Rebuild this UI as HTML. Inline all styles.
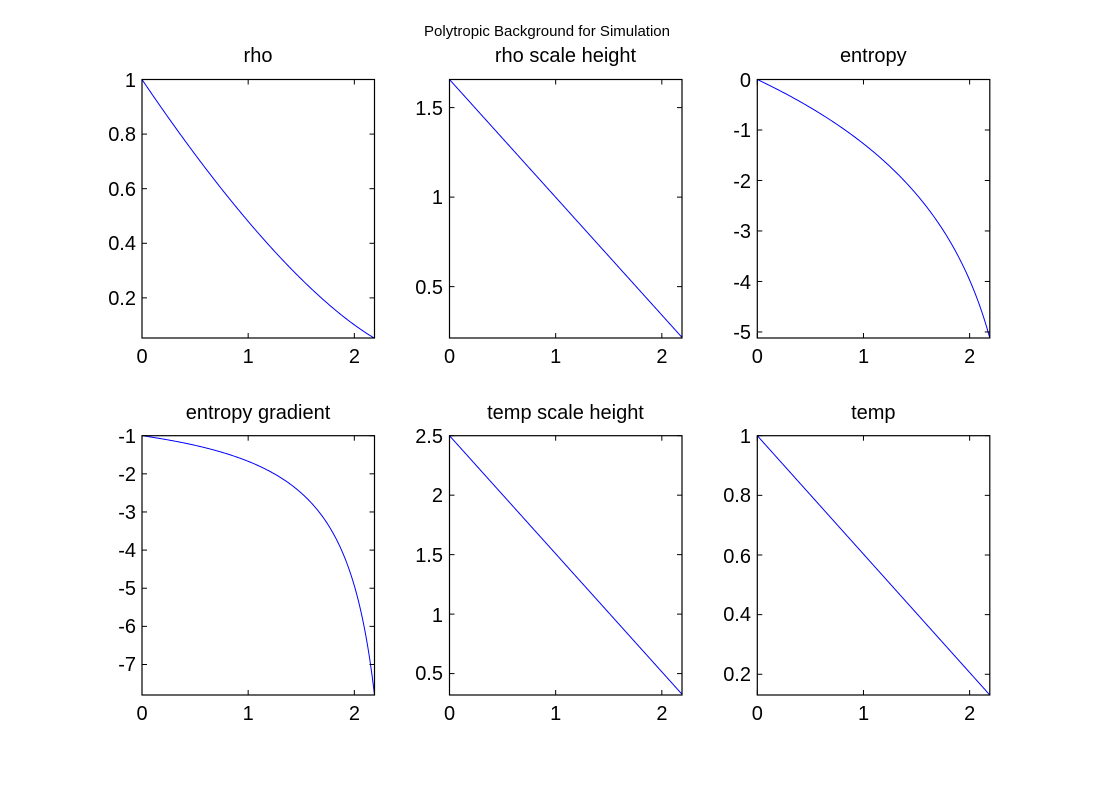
<!DOCTYPE html>
<html><head><meta charset="utf-8"><style>
html,body{margin:0;padding:0;background:#fff}
svg text{font-family:"Liberation Sans",Arial,sans-serif;fill:#000}
.t{font-size:20px}
.tt{font-size:20px;text-anchor:middle}
.yl{text-anchor:end}
.xl{text-anchor:middle}
</style></head><body>
<svg id="s" width="1094" height="781" viewBox="0 0 1094 781" xmlns="http://www.w3.org/2000/svg">
<rect width="1094" height="781" fill="#fff"/>
<text x="547" y="36" style="font-size:15px;text-anchor:middle">Polytropic Background for Simulation</text>
<g class="t">
<text class="tt" x="258" y="62">rho</text>
<text class="tt" x="565.5" y="62">rho scale height</text>
<text class="tt" x="873.3" y="62">entropy</text>
<text class="tt" x="258" y="419">entropy gradient</text>
<text class="tt" x="565.5" y="419">temp scale height</text>
<text class="tt" x="873.3" y="419">temp</text>

<text class="xl" x="142" y="363">0</text><text class="xl" x="248.2" y="363">1</text><text class="xl" x="354.4" y="363">2</text>
<text class="xl" x="449.5" y="363">0</text><text class="xl" x="555.7" y="363">1</text><text class="xl" x="661.9" y="363">2</text>
<text class="xl" x="757.3" y="363">0</text><text class="xl" x="863.5" y="363">1</text><text class="xl" x="969.7" y="363">2</text>
<text class="xl" x="142" y="720">0</text><text class="xl" x="248.2" y="720">1</text><text class="xl" x="354.4" y="720">2</text>
<text class="xl" x="449.5" y="720">0</text><text class="xl" x="555.7" y="720">1</text><text class="xl" x="661.9" y="720">2</text>
<text class="xl" x="757.3" y="720">0</text><text class="xl" x="863.5" y="720">1</text><text class="xl" x="969.7" y="720">2</text>

<text class="yl" x="136" y="87">1</text><text class="yl" x="136" y="141">0.8</text><text class="yl" x="136" y="196">0.6</text><text class="yl" x="136" y="250">0.4</text><text class="yl" x="136" y="305">0.2</text>
<text class="yl" x="443" y="115">1.5</text><text class="yl" x="443" y="204">1</text><text class="yl" x="443" y="294">0.5</text>
<text class="yl" x="751" y="87">0</text><text class="yl" x="751" y="137">-1</text><text class="yl" x="751" y="188">-2</text><text class="yl" x="751" y="238">-3</text><text class="yl" x="751" y="289">-4</text><text class="yl" x="751" y="339">-5</text>
<text class="yl" x="136" y="443">-1</text><text class="yl" x="136" y="481">-2</text><text class="yl" x="136" y="519">-3</text><text class="yl" x="136" y="557">-4</text><text class="yl" x="136" y="595">-5</text><text class="yl" x="136" y="633">-6</text><text class="yl" x="136" y="671">-7</text>
<text class="yl" x="443" y="443">2.5</text><text class="yl" x="443" y="502">2</text><text class="yl" x="443" y="562">1.5</text><text class="yl" x="443" y="622">1</text><text class="yl" x="443" y="680">0.5</text>
<text class="yl" x="751" y="443">1</text><text class="yl" x="751" y="502">0.8</text><text class="yl" x="751" y="563">0.6</text><text class="yl" x="751" y="621">0.4</text><text class="yl" x="751" y="681">0.2</text>
</g>
<g id="g"></g>
</svg>
<script>
var L=[142,449.5,757.3],W=232.5,T=[79.5,435.7],H=[258.5,259.3],XM=2.19,Tend=0.1305;
var plots=[
 {c:0,r:0,y0:0.053,y1:1,yt:[0.2,0.4,0.6,0.8,1],f:function(t){return Math.pow(t,1.45)}},
 {c:1,r:0,y0:0.213,y1:1.657,yt:[0.5,1,1.5],f:function(t){return 1.657*t}},
 {c:2,r:0,y0:-5.12,y1:0,yt:[-5,-4,-3,-2,-1,0],f:function(t){return 5.12/Math.log(1/Tend)*Math.log(t)}},
 {c:0,r:1,y0:-7.8,y1:-1,yt:[-7,-6,-5,-4,-3,-2,-1],f:function(t){return -1/t*(7.8/(1/Tend))*0+(-1-(1/t-1)*(6.8/(1/Tend-1)))}},
 {c:1,r:1,y0:0.32,y1:2.5,yt:[0.5,1,1.5,2,2.5],f:function(t){return 2.5*t}},
 {c:2,r:1,y0:0.1305,y1:1,yt:[0.2,0.4,0.6,0.8,1],f:function(t){return t}}
];
var h='';
plots.forEach(function(p){
 var l=L[p.c],tp=T[p.r],hh=H[p.r],b=tp+hh,r=l+W;
 function X(x){return l+x/XM*W} function Y(v){return tp+(p.y1-v)/(p.y1-p.y0)*hh}
 var pts=[];
 for(var i=0;i<=200;i++){var x=XM*i/200,t=1-x/XM*(1-Tend);pts.push(X(x).toFixed(2)+','+Y(p.f(t)).toFixed(2));}
 h+='<polyline points="'+pts.join(' ')+'" fill="none" stroke="#0000ff" stroke-width="1"/>';
 h+='<rect x="'+l+'" y="'+tp+'" width="'+W+'" height="'+hh+'" fill="none" stroke="#000" stroke-width="1.2"/>';
 [0,1,2].forEach(function(x){var xx=X(x);h+='<line x1="'+xx+'" y1="'+b+'" x2="'+xx+'" y2="'+(b-5)+'" stroke="#000"/><line x1="'+xx+'" y1="'+tp+'" x2="'+xx+'" y2="'+(tp+5)+'" stroke="#000"/>';});
 p.yt.forEach(function(v){var yy=Y(v);h+='<line x1="'+l+'" y1="'+yy+'" x2="'+(l+5)+'" y2="'+yy+'" stroke="#000"/><line x1="'+r+'" y1="'+yy+'" x2="'+(r-5)+'" y2="'+yy+'" stroke="#000"/>';});
});
document.getElementById('g').innerHTML=h;
</script>
</body></html>
